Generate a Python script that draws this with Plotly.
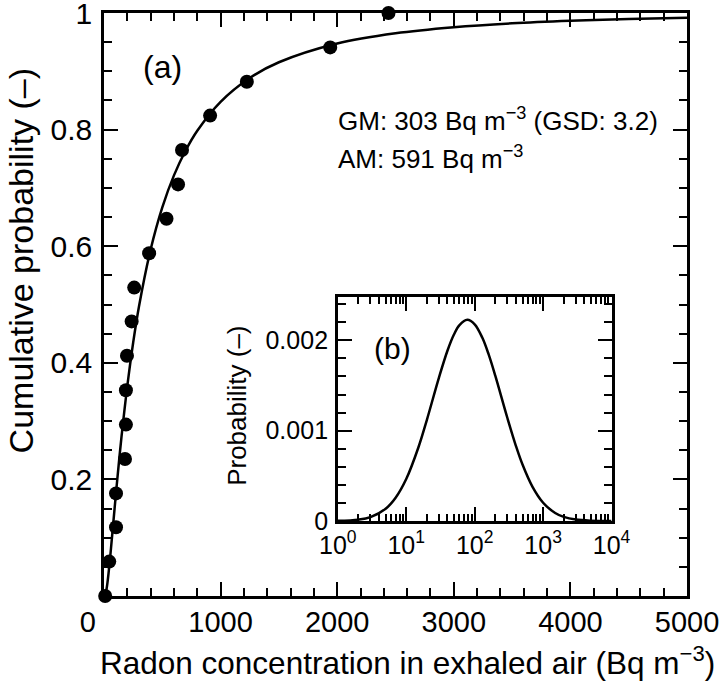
import plotly.graph_objects as go

# ---- data ----
# measured points: radon concentration (Bq m^-3) vs cumulative probability
meas_x = [10, 45, 103, 103, 180, 188, 188, 197, 237, 259, 387, 536, 635, 669, 910, 1225, 1940, 2440]
meas_y = [0.0, 0.059, 0.118, 0.176, 0.235, 0.294, 0.353, 0.412, 0.471, 0.529,
          0.588, 0.647, 0.706, 0.765, 0.824, 0.882, 0.941, 1.0]

# fitted cumulative curve
cdf_x = [0, 10, 20, 30, 40, 50, 60, 80, 100, 125, 150, 200, 250, 300, 400, 500, 600,
         700, 800, 1000, 1250, 1500, 2000, 2500, 3000, 3500, 4000, 4500, 5000]
cdf_y = [0.0, 0.0017, 0.0097, 0.0234, 0.0409, 0.0607, 0.0819, 0.1261, 0.1703, 0.2233,
         0.2728, 0.3605, 0.4344, 0.4966, 0.5944, 0.6667, 0.7215, 0.7642, 0.7981, 0.8477,
         0.8885, 0.9155, 0.9477, 0.9652, 0.9756, 0.9823, 0.9867, 0.9898, 0.9920]

# inset (b): probability density
pdf_x = [1, 2, 3, 5, 7, 10, 15, 20, 30, 40, 50, 60, 78, 100, 130, 160, 200, 300, 400,
         500, 700, 1000, 1500, 2000, 3000, 5000, 10000]
pdf_y = [0.000002, 0.0000154, 0.0000436, 0.000136, 0.000258, 0.000465, 0.000811, 0.001118,
         0.001585, 0.001885, 0.002067, 0.002169, 0.002227, 0.002178, 0.002025, 0.001844,
         0.001609, 0.001143, 0.000833, 0.000625, 0.000378, 0.0002025, 0.0000888, 0.000046,
         0.0000164, 0.0000038, 0.0000004]

main_xticks = [0, 1000, 2000, 3000, 4000, 5000]
main_xticktext = ["0\u2007\u2007", "1000", "2000", "3000", "4000", "5000"]
main_yticks = [0, 0.2, 0.4, 0.6, 0.8, 1.0]
main_yticktext = ["", "0.2", "0.4", "0.6", "0.8", "1"]
inset_xticks = [1, 10, 100, 1000, 10000]
inset_xticktext = ["10<sup>0</sup>", "10<sup>1</sup>", "10<sup>2</sup>", "10<sup>3</sup>", "10<sup>4</sup>"]
inset_yticks = [0, 0.001, 0.002]
inset_yticktext = ["0", "0.001", "0.002"]

FONT = "Liberation Sans, Arial, sans-serif"
BLACK = "#000000"

fig = go.Figure()
fig.add_trace(go.Scatter(x=cdf_x, y=cdf_y, mode="lines", line=dict(color=BLACK, width=2.5, shape="spline"),
                         xaxis="x", yaxis="y", showlegend=False, cliponaxis=False))
fig.add_trace(go.Scatter(x=meas_x, y=meas_y, mode="markers", marker=dict(color=BLACK, size=14),
                         xaxis="x", yaxis="y", showlegend=False, cliponaxis=False))
fig.add_trace(go.Scatter(x=pdf_x, y=pdf_y, mode="lines", line=dict(color=BLACK, width=2.5, shape="spline"),
                         xaxis="x2", yaxis="y2", showlegend=False))

minor_log = [m * d for d in (1, 10, 100, 1000) for m in range(2, 10)]

common = dict(ticks="inside", tickwidth=2, tickcolor=BLACK, showline=True, linewidth=2.5,
              linecolor=BLACK, mirror="ticks", showgrid=False, zeroline=False, automargin=False,
              ticklabeloverflow="allow")

fig.update_layout(
    template="none",
    width=724, height=684,
    margin=dict(l=104, r=37, t=13, b=88, autoexpand=False),
    paper_bgcolor="white", plot_bgcolor="white",
    font=dict(family=FONT, color=BLACK),
    xaxis=dict(domain=[0, 1], range=[0, 5000], tickvals=main_xticks, ticktext=main_xticktext,
               ticklen=14, tickfont=dict(size=29), ticklabelstandoff=-2,
               minor=dict(dtick=200, tick0=0, ticks="inside", ticklen=8, tickwidth=2, tickcolor=BLACK),
               **common),
    yaxis=dict(domain=[0, 1], range=[0, 1], tickvals=main_yticks, ticktext=main_yticktext,
               ticklen=14, tickfont=dict(size=30), ticklabelstandoff=3,
               minor=dict(dtick=0.05, tick0=0, ticks="inside", ticklen=8, tickwidth=2, tickcolor=BLACK),
               **common),
    xaxis2=dict(domain=[0.401, 0.8706], anchor="y2", type="log", range=[0, 4], tickvals=inset_xticks,
                ticktext=inset_xticktext, ticklen=14, tickfont=dict(size=25),
                minor=dict(tickvals=minor_log, ticks="inside", ticklen=7, tickwidth=2, tickcolor=BLACK),
                **common),
    yaxis2=dict(domain=[0.1286, 0.5129], anchor="x2", range=[0, 0.00248], tickvals=inset_yticks,
                ticktext=inset_yticktext, ticklen=14, tickfont=dict(size=25), ticklabelstandoff=2,
                minor=dict(dtick=0.0002, tick0=0, ticks="inside", ticklen=8, tickwidth=2, tickcolor=BLACK),
                **common),
    annotations=[
        dict(text="Radon concentration in exhaled air (Bq m<sup>−3</sup>)", xref="paper", yref="paper",
             x=0.521, y=-0.112, xanchor="center", yanchor="middle", showarrow=False, font=dict(size=31.5)),
        dict(text="Cumulative probability (–)", xref="paper", yref="paper", textangle=-90,
             x=-0.143, y=0.575, xanchor="center", yanchor="middle", showarrow=False, font=dict(size=34)),
        dict(text="(a)", xref="paper", yref="paper", x=0.0995, y=0.9074, xanchor="center",
             yanchor="middle", showarrow=False, font=dict(size=32)),
        dict(text="GM: 303 Bq m<sup>−3</sup> (GSD: 3.2)", xref="paper", yref="paper", x=0.398, y=0.818,
             xanchor="left", yanchor="middle", showarrow=False, font=dict(size=26)),
        dict(text="AM: 591 Bq m<sup>−3</sup>", xref="paper", yref="paper", x=0.398, y=0.753,
             xanchor="left", yanchor="middle", showarrow=False, font=dict(size=26)),
        dict(text="(b)", xref="paper", yref="paper", x=0.494, y=0.4237, xanchor="center",
             yanchor="middle", showarrow=False, font=dict(size=30)),
        dict(text="Probability (–)", xref="paper", yref="paper", textangle=-90,
             x=0.228, y=0.326, xanchor="center", yanchor="middle", showarrow=False, font=dict(size=26)),
    ],
)

# remove the default 8 px page margin so the figure sits at the window's top-left corner
fig.write_html("out.html", config={"displayModeBar": False},
               post_script="document.body.style.margin='0px';")
